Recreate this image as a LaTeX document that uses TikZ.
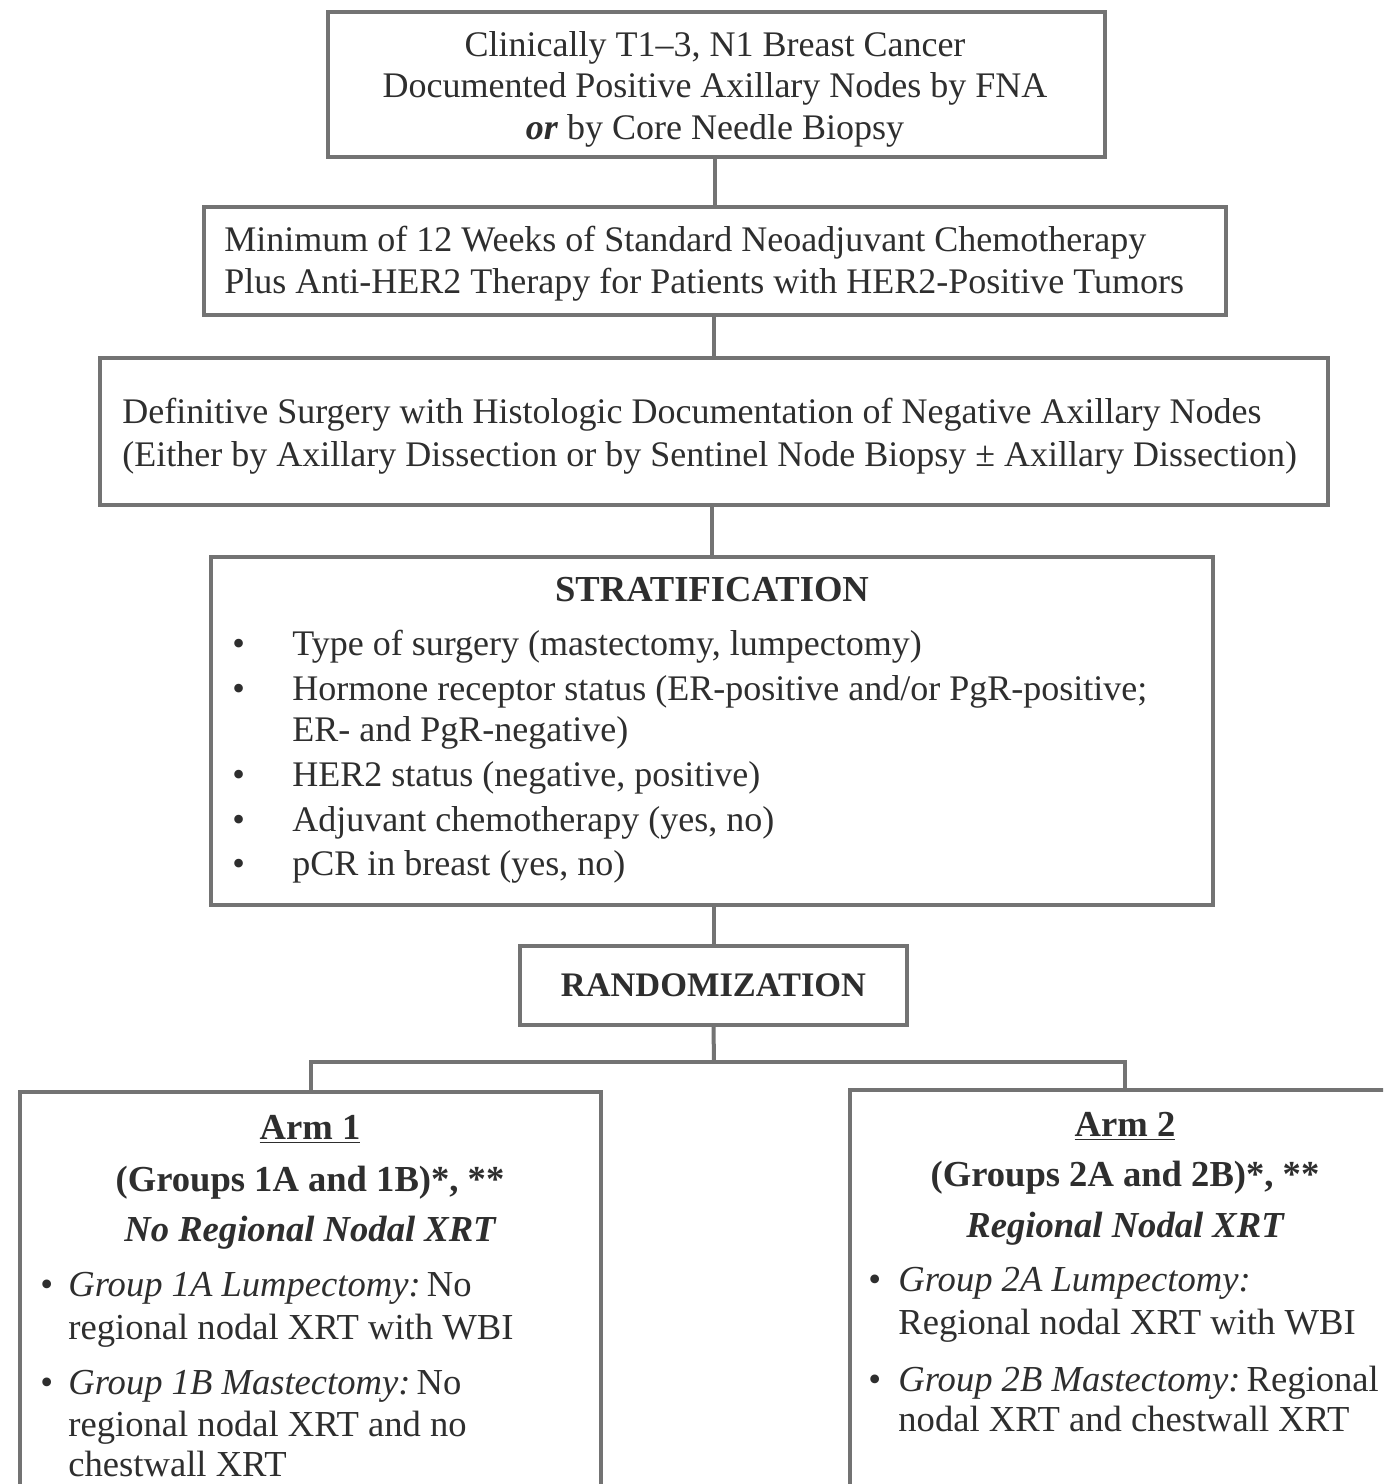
\documentclass[tikz,border=0pt]{standalone}
\usepackage{fontspec}
\setmainfont{Liberation Serif}
\definecolor{linegray}{gray}{0.45}
\definecolor{txt}{gray}{0.18}
\begin{document}
\begin{tikzpicture}[x=0.5pt,y=-0.5pt,
  box/.style={draw=linegray, line width=2pt, inner sep=0pt, text=txt},
  btxt/.style={inner sep=0pt, text=txt},
  conn/.style={draw=linegray, line width=2pt},
  ln/.style={anchor=mid west, inner sep=0pt, text=txt, font=\fontsize{18}{21}\selectfont},
  ttl/.style={anchor=mid, inner sep=0pt, text=txt, font=\fontsize{18.3}{21}\selectfont\bfseries},
  aln/.style={anchor=mid west, inner sep=0pt, text=txt, font=\fontsize{18.3}{21}\selectfont},
  attl/.style={anchor=mid, inner sep=0pt, text=txt, font=\fontsize{18.3}{21}\selectfont\bfseries}]
\path[use as bounding box, clip] (0,0) rectangle (1383,1484);
\fill[white] (0,0) rectangle (1383,1484);

% boxes
\node[box, minimum width=388.5pt, minimum height=72.5pt] (b1) at (716.5,84.5) {};
\node[box, minimum width=511pt, minimum height=54pt] (b2) at (715,261) {};
\node[box, minimum width=614pt, minimum height=73.5pt] (b3) at (714,431.5) {};
\node[box, minimum width=501pt, minimum height=174pt] (b4) at (712,731) {};
\node[box, font=\fontsize{17.2}{21}\selectfont\bfseries, minimum width=193.5pt, minimum height=39.5pt] (b5) at (713.5,985.5) {RANDOMIZATION};
\node[box, minimum width=290.5pt, minimum height=214pt] (arm1) at (310.5,1306) {};
\node[box, minimum width=285pt, minimum height=215pt] (arm2) at (1135,1305) {};

% box texts
\node[btxt, align=center, font=\fontsize{18}{20.75}\selectfont] (b1t) at (715,89)
  {Clinically T1–3, N1 Breast Cancer\\Documented Positive Axillary Nodes by FNA\\\textbf{\textit{or}} by Core Needle Biopsy};
\node[btxt, anchor=west, align=left, font=\fontsize{18}{21}\selectfont] (b2t) at (224,264)
  {Minimum of 12 Weeks of Standard Neoadjuvant Chemotherapy\\Plus Anti-HER2 Therapy for Patients with HER2-Positive Tumors};
\node[btxt, anchor=west, align=left, font=\fontsize{18}{21.5}\selectfont] (b3t) at (122,436.5)
  {Definitive Surgery with Histologic Documentation of Negative Axillary Nodes\\(Either by Axillary Dissection or by Sentinel Node Biopsy ± Axillary Dissection)};

% stratification text
\node[ttl] (st) at (712,597) {STRATIFICATION};
\foreach \y/\t [count=\i] in {651/{Type of surgery (mastectomy, lumpectomy)},
  696/{Hormone receptor status (ER-positive and/or PgR-positive;},
  782/{HER2 status (negative, positive)},
  827/{Adjuvant chemotherapy (yes, no)},
  871/{pCR in breast (yes, no)}}{
  \node[ln] (sb\i) at (232,\y) {\textbullet};
  \node[ln] (st\i) at (292,\y) {\t};
}
\node[ln] (st2b) at (292,737) {ER- and PgR-negative)};

% arm 1 text
\node[attl] (a1t) at (310,1135) {\underline{Arm 1}};
\node[attl] (a1g) at (310,1187) {(Groups 1A and 1B)*, **};
\node[attl, font=\fontsize{18.3}{21}\selectfont\bfseries\itshape] (a1s) at (310,1237) {No Regional Nodal XRT};
\node[aln] (a1b1) at (40,1292) {\textbullet};
\node[aln] (a1l1) at (68,1292) {\textit{Group 1A Lumpectomy:}\,No};
\node[aln] (a1l2) at (68,1335) {regional nodal XRT with WBI};
\node[aln] (a1b2) at (40,1390) {\textbullet};
\node[aln] (a1l3) at (68,1390) {\textit{Group 1B Mastectomy:}\,No};
\node[aln] (a1l4) at (68,1432) {regional nodal XRT and no};
\node[aln] (a1l5) at (68,1472) {chestwall XRT};

% arm 2 text
\node[attl] (a2t) at (1125,1132) {\underline{Arm 2}};
\node[attl] (a2g) at (1125,1182) {(Groups 2A and 2B)*, **};
\node[attl, font=\fontsize{18.3}{21}\selectfont\bfseries\itshape] (a2s) at (1125,1233) {Regional Nodal XRT};
\node[aln] (a2b1) at (868,1287) {\textbullet};
\node[aln] (a2l1) at (898,1287) {\textit{Group 2A Lumpectomy:}};
\node[aln] (a2l2) at (898,1330) {Regional nodal XRT with WBI};
\node[aln] (a2b2) at (868,1387) {\textbullet};
\node[aln] (a2l3) at (898,1387) {\textit{Group 2B Mastectomy:}\,Regional};
\node[aln] (a2l4) at (898,1427) {nodal XRT and chestwall XRT};

% connectors
\coordinate (split) at (714,1062);
\coordinate (d2) at (1125,1090);
\draw[conn] (b2.north |- b1.south) -- (b2.north);
\draw[conn] (b3.north |- b2.south) -- (b3.north);
\draw[conn] (b4.north |- b3.south) -- (b4.north);
\draw[conn] (b5.north |- b4.south) -- (b5.north);
\draw[conn] (b5.south) -- (split);
\draw[conn] (arm1.north) |- (split) -| (d2);
\end{tikzpicture}
\end{document}
